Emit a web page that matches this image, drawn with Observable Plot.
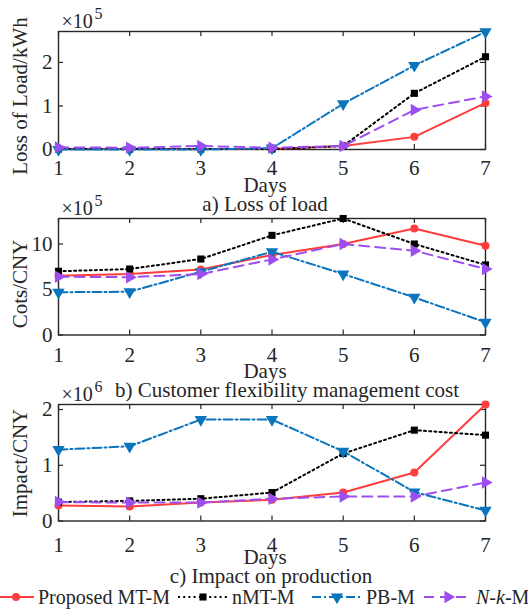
<!DOCTYPE html>
<html><head><meta charset="utf-8">
<script src="https://cdn.jsdelivr.net/npm/d3@7"></script>
<script src="https://cdn.jsdelivr.net/npm/@observablehq/plot@0.6"></script>
<style>
body{margin:0;background:#fff;}
#root{position:relative;width:528px;height:610px;overflow:hidden;font-family:"Liberation Serif",serif;background:#fff;color:#262626;}
#root svg text{font-family:"Liberation Serif",serif;}
.panel{position:absolute;left:0;}
.ylab{position:absolute;left:20px;font-size:21px;line-height:21px;white-space:nowrap;transform:translate(-50%,-50%) rotate(-90deg);}
.leg{position:absolute;top:587px;height:20px;font-size:20px;line-height:20px;white-space:nowrap;display:flex;align-items:center;}
.leg svg{display:block;margin-right:4px;}
</style></head><body><div id="root"></div>
<script>
const days = [1, 2, 3, 4, 5, 6, 7];
const seriesNames = ["Proposed MT-M", "nMT-M", "PB-M", "N-k-M"];

// a) Loss of load (x10^5 kWh)
const lossProposed = [0.01, 0.01, 0.01, 0.01, 0.08, 0.29, 1.07];
const lossNMT      = [0.01, 0.01, 0.01, 0.01, 0.08, 1.29, 2.13];
const lossPB       = [0.00, 0.00, 0.00, 0.03, 1.05, 1.93, 2.70];
const lossNK       = [0.05, 0.04, 0.08, 0.04, 0.08, 0.91, 1.22];

// b) Customer flexibility management cost (x10^5 CNY)
const costProposed = [6.5, 6.7, 7.2, 8.8, 10.0, 11.7, 9.8];
const costNMT      = [7.0, 7.25, 8.35, 10.95, 12.8, 10.0, 7.7];
const costPB       = [4.7, 4.75, 6.95, 9.15, 6.7, 4.13, 1.4];
const costNK       = [6.4, 6.35, 6.7, 8.3, 10.0, 9.26, 7.25];

// c) Impact on production (x10^6 CNY)
const impProposed = [0.28, 0.26, 0.33, 0.38, 0.51, 0.87, 2.09];
const impNMT      = [0.34, 0.36, 0.40, 0.51, 1.21, 1.63, 1.54];
const impPB       = [1.28, 1.34, 1.82, 1.82, 1.25, 0.52, 0.19];
const impNK       = [0.34, 0.33, 0.33, 0.40, 0.44, 0.44, 0.69];

const lossTicks = [0, 1, 2];
const costTicks = [0, 5, 10];
const impTicks = [0, 1, 2];

const colors = ["#ff3d3d", "#000000", "#0a74bd", "#9d4ef0"];
const dashes = [null, "2,3.2", "9,3,2,3", "10,6"];
const symbols = ["circle", "square", "triangle", "triangle"];
const rotations = [0, 0, 180, 90];
const radii = [4, 4, 4.6, 4.6];
const ink = "#262626";

const root = document.getElementById("root");

function panel({values, yDomain, yTicks, yLabel, yLabelY, exp, caption, capDx, frameTop, fh, tickPad}) {
  const W = 528, ml = 58, mr = 43, mt = 40, mb = 75;
  const fw = W - ml - mr;
  const H = mt + fh + mb;
  const marks = [];
  marks.push(Plot.frame({stroke: ink, strokeWidth: 1.4}));
  // inner box ticks
  marks.push(Plot.tickX(days, {x: d => d, insetTop: fh - 5, stroke: ink, strokeWidth: 1.2}));
  marks.push(Plot.tickX(days, {x: d => d, insetBottom: fh - 5, stroke: ink, strokeWidth: 1.2}));
  marks.push(Plot.tickY(yTicks, {y: d => d, insetRight: fw - 5, stroke: ink, strokeWidth: 1.2}));
  marks.push(Plot.tickY(yTicks, {y: d => d, insetLeft: fw - 5, stroke: ink, strokeWidth: 1.2}));
  marks.push(Plot.axisX(days, {anchor: "bottom", tickSize: 0, tickPadding: tickPad, label: null, fontSize: 21, fill: ink, tickFormat: d => String(d)}));
  marks.push(Plot.axisY(yTicks, {anchor: "left", tickSize: 0, tickPadding: 6, label: null, fontSize: 21, fill: ink, tickFormat: d => String(d)}));
  values.forEach((arr, i) => {
    const data = arr.map((v, j) => ({day: days[j], v, s: seriesNames[i]}));
    marks.push(Plot.line(data, {x: "day", y: "v", stroke: colors[i], strokeWidth: 2, strokeDasharray: dashes[i]}));
    marks.push(Plot.dot(data, {x: "day", y: "v", fill: colors[i], stroke: "none", symbol: symbols[i], r: radii[i], rotate: rotations[i]}));
  });
  marks.push(Plot.text(["Days"], {text: d => d, frameAnchor: "bottom", dx: -7, dy: 36, lineAnchor: "middle", fontSize: 21, fill: ink}));
  marks.push(Plot.text([caption], {text: d => d, frameAnchor: "bottom", dx: capDx, dy: 55, lineAnchor: "middle", fontSize: 21, fill: ink}));
  marks.push(Plot.text(["×10"], {text: d => d, frameAnchor: "top-left", dx: 3, dy: -10, textAnchor: "start", lineAnchor: "middle", fontSize: 20, fill: ink}));
  marks.push(Plot.text([exp], {text: d => d, frameAnchor: "top-left", dx: 36, dy: -18, textAnchor: "start", lineAnchor: "middle", fontSize: 16, fill: ink}));
  const svg = Plot.plot({
    width: W, height: H,
    marginLeft: ml, marginRight: mr, marginTop: mt, marginBottom: mb,
    x: {domain: [1, 7]},
    y: {domain: yDomain},
    style: {fontFamily: "Liberation Serif", fontSize: "21px", color: ink, background: "transparent", overflow: "visible"},
    marks
  });
  svg.classList.add("panel");
  svg.style.top = (frameTop - mt) + "px";
  root.appendChild(svg);
  const lab = document.createElement("div");
  lab.className = "ylab";
  lab.style.top = yLabelY + "px";
  lab.textContent = yLabel;
  root.appendChild(lab);
}

panel({values: [lossProposed, lossNMT, lossPB, lossNK], yDomain: [0, 2.71], yTicks: lossTicks,
  yLabel: "Loss of Load/kWh", yLabelY: 96, exp: "5", caption: "a) Loss of load", capDx: -7,
  frameTop: 31, fh: 118, tickPad: 11});
panel({values: [costProposed, costNMT, costPB, costNK], yDomain: [0, 12.8], yTicks: costTicks,
  yLabel: "Cots/CNY", yLabelY: 284, exp: "5", caption: "b) Customer flexibility management cost", capDx: 15,
  frameTop: 218, fh: 116.5, tickPad: 12});
panel({values: [impProposed, impNMT, impPB, impNK], yDomain: [0, 2.09], yTicks: impTicks,
  yLabel: "Impact/CNY", yLabelY: 463, exp: "6", caption: "c) Impact on production", capDx: -1,
  frameTop: 403.5, fh: 116.5, tickPad: 16});

// legend
const legendPos = [
  {left: 0, lw: 34},
  {left: 178, lw: 50},
  {left: 312, lw: 50},
  {left: 424, lw: 48}
];
const legendLabels = ["Proposed MT-M", "nMT-M", "PB-M", "<i>N</i>-<i>k</i>-M"];
legendPos.forEach((p, i) => {
  const div = document.createElement("div");
  div.className = "leg";
  div.style.left = p.left + "px";
  const ns = "http://www.w3.org/2000/svg";
  const s = document.createElementNS(ns, "svg");
  s.setAttribute("width", p.lw); s.setAttribute("height", 20);
  const l = document.createElementNS(ns, "line");
  l.setAttribute("x1", 0); l.setAttribute("x2", p.lw); l.setAttribute("y1", 10); l.setAttribute("y2", 10);
  l.setAttribute("stroke", colors[i]); l.setAttribute("stroke-width", 2);
  if (dashes[i]) l.setAttribute("stroke-dasharray", dashes[i]);
  s.appendChild(l);
  const sym = {circle: d3.symbolCircle, square: d3.symbolSquare, triangle: d3.symbolTriangle}[symbols[i]];
  const path = document.createElementNS(ns, "path");
  path.setAttribute("d", d3.symbol(sym, Math.PI * radii[i] * radii[i])());
  path.setAttribute("transform", `translate(${i === 0 ? 16 : p.lw / 2},10) rotate(${rotations[i]})`);
  path.setAttribute("fill", colors[i]);
  s.appendChild(path);
  div.appendChild(s);
  const t = document.createElement("span");
  t.innerHTML = legendLabels[i];
  div.appendChild(t);
  root.appendChild(div);
});
</script></body></html>
